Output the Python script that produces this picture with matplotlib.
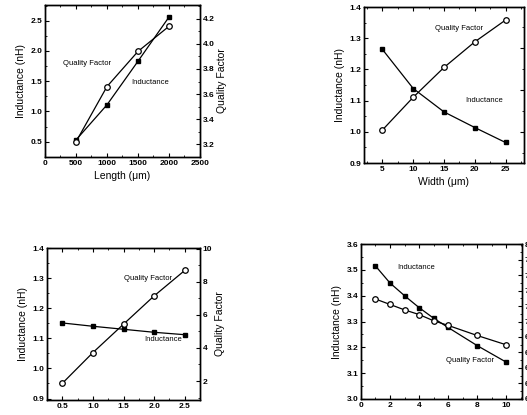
import numpy as np
import matplotlib
matplotlib.use('Agg')
import matplotlib.pyplot as plt
from matplotlib.ticker import AutoMinorLocator

plt.rcParams['font.family'] = ['Liberation Sans', 'DejaVu Sans']
plt.rcParams['font.weight'] = 'bold'

# Panel a: length sweep
length = [500, 1000, 1500, 2000]
ind_len = [0.53, 1.11, 1.83, 2.56]
qf_len = [3.22, 3.66, 3.94, 4.14]

# Panel b: width sweep
width = [5, 10, 15, 20, 25]
ind_w = [1.264, 1.139, 1.064, 1.014, 0.966]
qf_w = [6.05, 6.83, 7.54, 8.15, 8.67]

# Panel c: spacing sweep
spacing = [0.5, 1.0, 1.5, 2.0, 2.5]
ind_s = [1.151, 1.14, 1.13, 1.12, 1.112]
qf_s = [1.86, 3.72, 5.44, 7.15, 8.69]

# Panel d: turns sweep
turns = [1, 2, 3, 4, 5, 6, 8, 10]
ind_t = [3.515, 3.449, 3.40, 3.354, 3.313, 3.277, 3.207, 3.143]
qf_t = [7.29, 7.22, 7.15, 7.09, 7.01, 6.95, 6.82, 6.70]

fig = plt.figure(figsize=(5.27, 4.15), dpi=100)


def style(ax):
    ax.tick_params(direction='in', length=3, width=0.8, labelsize=6, pad=2)
    ax.tick_params(which='minor', direction='in', length=1.5, width=0.6)
    ax.xaxis.set_minor_locator(AutoMinorLocator(2))
    ax.yaxis.set_minor_locator(AutoMinorLocator(2))
    for s in ax.spines.values():
        s.set_linewidth(1.0)


def panel(rect, x, ind, qf, xlim, ylim, ylim2, xticks, yticks, yticks2,
          show_right=True):
    ax = fig.add_axes(rect)
    ax2 = ax.twinx()
    ax.plot(x, ind, '-s', color='black', lw=0.9, ms=3.5, mfc='black')
    ax2.plot(x, qf, '-o', color='black', lw=0.9, ms=4, mfc='white', mew=0.9)
    ax.set_xlim(*xlim)
    ax.set_ylim(*ylim)
    ax2.set_ylim(*ylim2)
    ax.set_xticks(xticks)
    ax.set_yticks(yticks)
    ax2.set_yticks(yticks2)
    style(ax)
    style(ax2)
    ax.tick_params(top=True, which='both')
    if not show_right:
        ax2.tick_params(labelright=False)
    ax.set_ylabel('Inductance (nH)', fontsize=7.5, labelpad=3)
    return ax, ax2


note = dict(fontsize=5.5, fontweight='normal', ha='center', va='center')

# top left
ax, ax2 = panel([0.0854, 0.622, 0.294, 0.366], length, ind_len, qf_len,
                (0, 2500), (0.25, 2.76), (3.1, 4.31),
                [0, 500, 1000, 1500, 2000, 2500], [0.5, 1.0, 1.5, 2.0, 2.5],
                [3.2, 3.4, 3.6, 3.8, 4.0, 4.2])
ax.set_yticklabels(['0.5', '1.0', '1.5', '2.0', '2.5'])
ax.set_xlabel('Length (\u03bcm)', fontsize=7.5, labelpad=3)
ax2.set_ylabel('Quality Factor', fontsize=7.5, labelpad=2)
ax.text(680, 1.8, 'Quality Factor', **note)
ax.text(1700, 1.48, 'Inductance', **note)

# top right
ax, ax2 = panel([0.6907, 0.607, 0.3036, 0.376], width, ind_w, qf_w,
                (2, 28), (0.9, 1.4), (5.26, 8.98),
                [5, 10, 15, 20, 25], [0.9, 1.0, 1.1, 1.2, 1.3, 1.4],
                [6, 7, 8], show_right=False)
ax.set_xlabel('Width (\u03bcm)', fontsize=7.5, labelpad=3)
ax.text(17.5, 1.33, 'Quality Factor', **note)
ax.text(21.5, 1.1, 'Inductance', **note)

# bottom left
ax, ax2 = panel([0.0892, 0.0361, 0.2903, 0.3663], spacing, ind_s, qf_s,
                (0.25, 2.75), (0.895, 1.4), (0.85, 10.05),
                [0.5, 1.0, 1.5, 2.0, 2.5], [0.9, 1.0, 1.1, 1.2, 1.3, 1.4],
                [2, 4, 6, 8, 10])
ax.set_yticklabels(['0.9', '1.0', '1.1', '1.2', '1.3', '1.4'])
ax2.set_ylabel('Quality Factor', fontsize=7.5, labelpad=2)
ax.text(1.9, 1.3, 'Quality Factor', **note)
ax.text(2.15, 1.095, 'Inductance', **note)

# bottom right (right-hand tick labels run off the page, as in the scan)
ax, ax2 = panel([0.685, 0.0386, 0.3055, 0.3734], turns, ind_t, qf_t,
                (0, 11.1), (3.0, 3.6), (6.0, 8.0),
                [0, 2, 4, 6, 8, 10], [3.0, 3.1, 3.2, 3.3, 3.4, 3.5, 3.6],
                np.round(np.arange(6.0, 8.01, 0.2), 1))
ax.text(3.8, 3.51, 'Inductance', **note)
ax.text(7.5, 3.15, 'Quality Factor', **note)

fig.savefig('out.png', dpi=100)
